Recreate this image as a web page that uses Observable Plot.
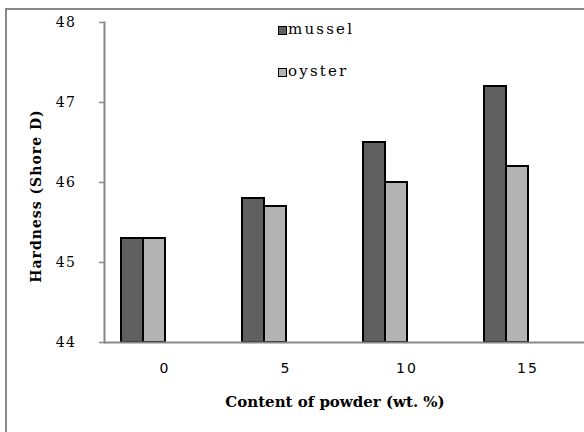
<!DOCTYPE html>
<html><head><meta charset="utf-8">
<script src="https://cdn.jsdelivr.net/npm/d3@7"></script>
<script src="https://cdn.jsdelivr.net/npm/@observablehq/plot@0.6"></script>
<style>
html,body{margin:0;padding:0;background:#fff;}
#wrap{position:relative;width:584px;height:432px;overflow:hidden;background:#fff;}
#border{position:absolute;left:5px;top:8px;right:0;bottom:0;border-left:2px solid #888;border-top:2px solid #888;}
#chart{position:absolute;left:0;top:0;}
#chart svg [aria-label="y-axis tick label"] text{letter-spacing:1.5px;}
#chart svg [aria-label="fx-axis tick label"] text{letter-spacing:2px;}
.leg{position:absolute;font-family:"DejaVu Serif",serif;font-size:15px;line-height:16px;letter-spacing:2.2px;color:#000;white-space:nowrap;}
.sw{position:absolute;width:9px;height:9px;border:1.5px solid #000;box-sizing:border-box;}
#xtitle{position:absolute;left:335px;top:395px;transform:translateX(-50%);font-family:"DejaVu Serif",serif;font-weight:bold;font-size:15px;line-height:15px;white-space:nowrap;color:#000;}
#ytitle{position:absolute;left:36px;top:196px;transform:translate(-50%,-50%) rotate(-90deg);font-family:"DejaVu Serif",serif;font-weight:bold;font-size:14px;line-height:16px;letter-spacing:1px;white-space:nowrap;color:#000;}
</style>
</head><body>
<div id="wrap">
  <div id="chart"></div>
  <div id="border"></div>
</div>
<script>
const categories = ["0", "5", "10", "15"];
const seriesNames = ["mussel", "oyster"];
const musselValues = [45.3, 45.8, 46.5, 47.2];
const oysterValues = [45.3, 45.7, 46.0, 46.2];
const yDomain = [44, 48];
const yTicks = [44, 45, 46, 47, 48];
const seriesColors = ["#606060", "#b3b3b3"];
const xTitle = "Content of powder (wt. %)";
const yTitle = "Hardness (Shore D)";

const rows = categories.flatMap((c, i) => [
  {content: c, series: seriesNames[0], value: musselValues[i]},
  {content: c, series: seriesNames[1], value: oysterValues[i]}
]);

const chart = Plot.plot({
  width: 584, height: 432,
  marginLeft: 104, marginRight: -4, marginTop: 22, marginBottom: 90,
  style: {background: "none", overflow: "visible"},
  fx: {domain: categories, padding: 0, label: null},
  x: {domain: seriesNames, paddingInner: 0, paddingOuter: 1.75, align: 0.2143, axis: null},
  y: {domain: yDomain, label: null},
  color: {domain: seriesNames, range: seriesColors},
  marks: [
    Plot.barY(rows, {fx: "content", x: "series", y1: yDomain[0], y2: "value", fill: "series", stroke: "black", strokeWidth: 2}),
    Plot.ruleY([yDomain[0]], {stroke: "#888", strokeWidth: 2}),
    Plot.frame({anchor: "left", facetAnchor: "left", stroke: "#888", strokeWidth: 2}),
    Plot.axisY(yTicks, {anchor: "left", tickSize: 5, tickPadding: 23, tickFormat: d => String(d), stroke: "#888", strokeWidth: 1.5, fill: "black", fontFamily: "DejaVu Serif", fontSize: 14, label: null}),
    Plot.axisFx({anchor: "bottom", tickSize: 0, tickPadding: 21, fill: "black", fontFamily: "DejaVu Sans", fontSize: 14, label: null})
  ]
});
document.getElementById("chart").appendChild(chart);

const wrap = document.getElementById("wrap");
const legTops = [21, 63];
seriesNames.forEach((name, i) => {
  const sw = document.createElement("div");
  sw.className = "sw";
  sw.style.left = "278px";
  sw.style.top = (legTops[i] + 5) + "px";
  sw.style.background = seriesColors[i];
  wrap.appendChild(sw);
  const t = document.createElement("div");
  t.className = "leg";
  t.style.left = "288px";
  t.style.top = legTops[i] + "px";
  t.textContent = name;
  wrap.appendChild(t);
});
const xt = document.createElement("div");
xt.id = "xtitle"; xt.textContent = xTitle; wrap.appendChild(xt);
const yt = document.createElement("div");
yt.id = "ytitle"; yt.textContent = yTitle; wrap.appendChild(yt);
</script>
</body></html>
